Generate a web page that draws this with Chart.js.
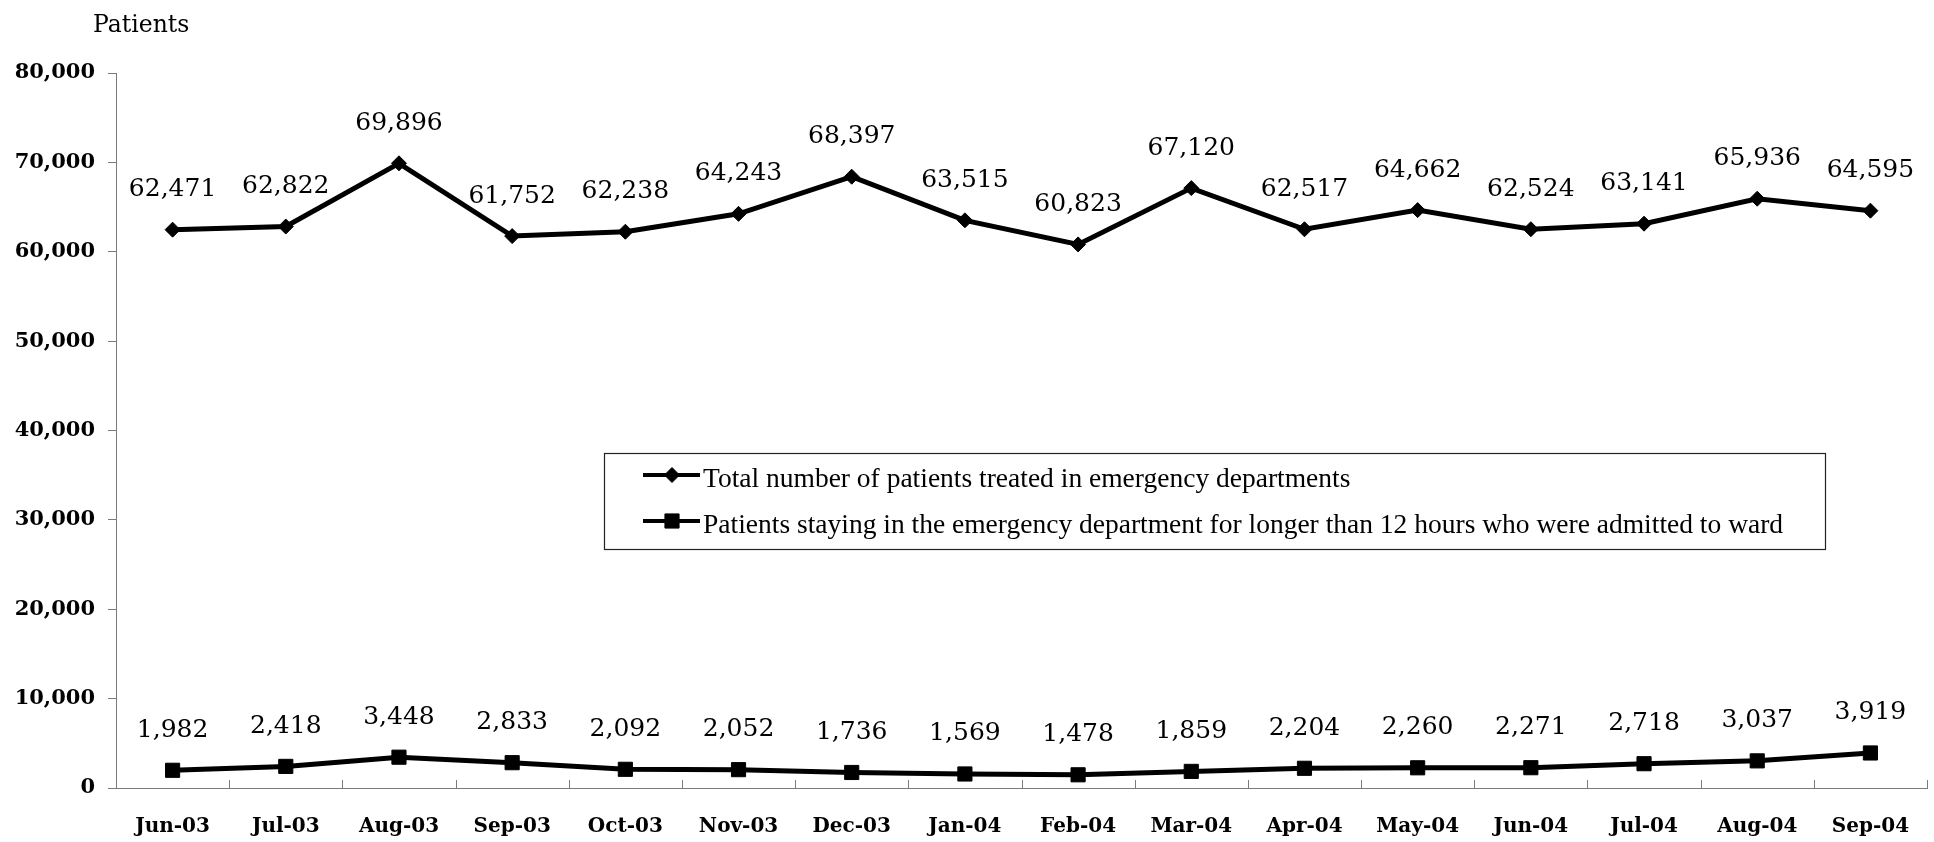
<!DOCTYPE html>
<html>
<head>
<meta charset="utf-8">
<script src="https://cdn.jsdelivr.net/npm/chart.js@4.4.1/dist/chart.umd.min.js"></script>
<style>
  html, body { margin: 0; padding: 0; background: #fff; overflow: hidden; }
  #wrap { position: relative; width: 1938px; height: 842px; }
</style>
</head>
<body>
<div id="wrap"><canvas id="chart"></canvas></div>
<script>
// ---- data ----
const months = ["Jun-03", "Jul-03", "Aug-03", "Sep-03", "Oct-03", "Nov-03", "Dec-03", "Jan-04",
                "Feb-04", "Mar-04", "Apr-04", "May-04", "Jun-04", "Jul-04", "Aug-04", "Sep-04"];
const totalTreated = [62471, 62822, 69896, 61752, 62238, 64243, 68397, 63515,
                      60823, 67120, 62517, 64662, 62524, 63141, 65936, 64595];
const over12hAdmitted = [1982, 2418, 3448, 2833, 2092, 2052, 1736, 1569,
                         1478, 1859, 2204, 2260, 2271, 2718, 3037, 3919];
const yMin = 0, yMax = 80000, yStep = 10000;
const yCaption = "Patients";

const serif = '"DejaVu Serif", serif';
const axisGrey = '#7a7a7a';
const fmt = v => v.toLocaleString('en-US');

// value labels above each point
const pointLabels = {
  id: 'pointLabels',
  afterDatasetsDraw(chart) {
    const ctx = chart.ctx;
    ctx.save();
    ctx.font = '25px ' + serif;
    ctx.fillStyle = '#000';
    ctx.textAlign = 'center';
    ctx.textBaseline = 'middle';
    chart.data.datasets.forEach((ds, i) => {
      chart.getDatasetMeta(i).data.forEach((pt, j) => {
        ctx.fillText(fmt(ds.data[j]), pt.x, pt.y - 40);
      });
    });
    ctx.restore();
  }
};

// x tick marks pointing up, between categories; plus the "Patients" caption
const axisExtras = {
  id: 'axisExtras',
  beforeDatasetsDraw(chart) {
    const ctx = chart.ctx, x = chart.scales.x, area = chart.chartArea;
    ctx.save();
    ctx.strokeStyle = axisGrey;
    ctx.lineWidth = 1;
    ctx.beginPath();
    for (let i = 1; i <= months.length; i++) {
      const px = Math.round(x.getPixelForValue(i - 0.5)) + 0.5;
      ctx.moveTo(px, area.bottom);
      ctx.lineTo(px, area.bottom - 8);
    }
    ctx.stroke();
    ctx.font = '23.5px ' + serif;
    ctx.fillStyle = '#000';
    ctx.textAlign = 'left';
    ctx.textBaseline = 'alphabetic';
    ctx.fillText(yCaption, 93, 32);
    ctx.restore();
  }
};

// boxed legend sitting inside the plot
const boxLegend = {
  id: 'boxLegend',
  afterDraw(chart) {
    const ctx = chart.ctx;
    const box = { left: 604, top: 453, right: 1825, bottom: 549 };
    ctx.save();
    ctx.fillStyle = '#fff';
    ctx.fillRect(box.left, box.top, box.right - box.left, box.bottom - box.top);
    ctx.strokeStyle = '#222';
    ctx.lineWidth = 1.2;
    ctx.strokeRect(box.left + 0.5, box.top + 0.5, box.right - box.left, box.bottom - box.top);
    ctx.font = '27.5px "Liberation Serif", serif';
    ctx.textAlign = 'left';
    ctx.textBaseline = 'alphabetic';
    chart.data.datasets.forEach((ds, i) => {
      const base = 487 + i * 46;
      const cy = base - 12;
      ctx.strokeStyle = ds.borderColor;
      ctx.lineWidth = 4;
      ctx.beginPath();
      ctx.moveTo(643, cy);
      ctx.lineTo(700, cy);
      ctx.stroke();
      ctx.fillStyle = ds.pointBackgroundColor;
      ctx.strokeStyle = ds.pointBorderColor;
      ctx.lineWidth = ds.pointBorderWidth;
      Chart.helpers.drawPoint(ctx, { pointStyle: ds.pointStyle, radius: ds.pointRadius, rotation: 0, borderWidth: ds.pointBorderWidth }, 672, cy);
      ctx.fillStyle = '#000';
      ctx.fillText(ds.label, 703, base);
    });
    ctx.restore();
  }
};

new Chart(document.getElementById('chart'), {
  type: 'line',
  data: {
    labels: months,
    datasets: [{
      label: 'Total number of patients treated in emergency departments',
      data: totalTreated,
      borderColor: '#000',
      borderWidth: 5,
      pointStyle: 'rectRot',
      pointRadius: 7.5,
      pointBackgroundColor: '#000',
      pointBorderColor: '#000',
      pointBorderWidth: 1,
      tension: 0
    }, {
      label: 'Patients staying in the emergency department for longer than 12 hours who were admitted to ward',
      data: over12hAdmitted,
      borderColor: '#000',
      borderWidth: 5,
      pointStyle: 'rect',
      pointRadius: 10,
      pointBackgroundColor: '#000',
      pointBorderColor: '#000',
      pointBorderWidth: 1,
      tension: 0
    }]
  },
  options: {
    responsive: true,
    maintainAspectRatio: false,
    animation: false,
    devicePixelRatio: 1,
    layout: { padding: { top: 73, right: 0, bottom: 0, left: 0 } },
    plugins: {
      legend: { display: false },
      tooltip: { enabled: false },
      title: { display: false }
    },
    scales: {
      x: {
        offset: true,
        grid: { display: false, drawTicks: false },
        border: { display: true, color: axisGrey, width: 1 },
        ticks: { color: '#000', font: { family: serif, size: 20, weight: 'bold' }, padding: 27, maxRotation: 0, autoSkip: false },
        afterFit(s) { s.height = 54; }
      },
      y: {
        min: yMin,
        max: yMax,
        grid: { display: true, drawOnChartArea: false, drawTicks: true, tickLength: 8, color: axisGrey },
        border: { display: true, color: axisGrey, width: 1 },
        ticks: { stepSize: yStep, color: '#000', font: { family: serif, size: 21, weight: 'bold' }, padding: 13, callback: v => fmt(v) },
        afterFit(s) { s.width = 116; }
      }
    }
  },
  plugins: [pointLabels, axisExtras, boxLegend]
});
</script>
</body>
</html>
